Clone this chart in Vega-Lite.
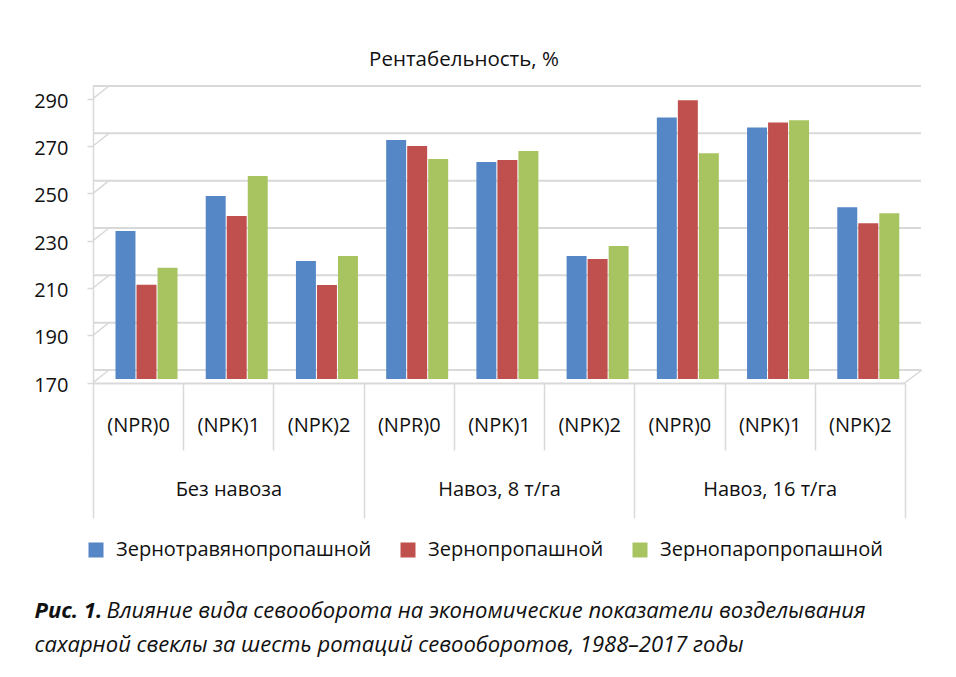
{
  "$schema": "https://vega.github.io/schema/vega-lite/v6.json",
  "width": 812,
  "height": 297,
  "autosize": {"type": "none"},
  "padding": {"left": 93, "top": 86, "right": 51, "bottom": 294},
  "background": "white",
  "title": {
    "text": "Рентабельность, %",
    "font": "Open Sans",
    "fontSize": 20.5,
    "fontWeight": "normal",
    "color": "#111111",
    "baseline": "alphabetic",
    "anchor": "middle",
    "frame": "group",
    "offset": -2,
    "dx": -35
  },
  "datasets": {
    "bars": [
      {"key": "Без навоза|(NPR)0", "series": "Зернотравянопропашной", "value": 232.5},
      {"key": "Без навоза|(NPR)0", "series": "Зернопропашной", "value": 209.8},
      {"key": "Без навоза|(NPR)0", "series": "Зернопаропропашной", "value": 217},
      {"key": "Без навоза|(NPK)1", "series": "Зернотравянопропашной", "value": 247.3},
      {"key": "Без навоза|(NPK)1", "series": "Зернопропашной", "value": 238.9},
      {"key": "Без навоза|(NPK)1", "series": "Зернопаропропашной", "value": 255.8},
      {"key": "Без навоза|(NPK)2", "series": "Зернотравянопропашной", "value": 219.9},
      {"key": "Без навоза|(NPK)2", "series": "Зернопропашной", "value": 209.7},
      {"key": "Без навоза|(NPK)2", "series": "Зернопаропропашной", "value": 222},
      {"key": "Навоз, 8 т/га|(NPR)0", "series": "Зернотравянопропашной", "value": 271},
      {"key": "Навоз, 8 т/га|(NPR)0", "series": "Зернопропашной", "value": 268.4},
      {"key": "Навоз, 8 т/га|(NPR)0", "series": "Зернопаропропашной", "value": 262.9},
      {"key": "Навоз, 8 т/га|(NPK)1", "series": "Зернотравянопропашной", "value": 261.7},
      {"key": "Навоз, 8 т/га|(NPK)1", "series": "Зернопропашной", "value": 262.5},
      {"key": "Навоз, 8 т/га|(NPK)1", "series": "Зернопаропропашной", "value": 266.3},
      {"key": "Навоз, 8 т/га|(NPK)2", "series": "Зернотравянопропашной", "value": 222},
      {"key": "Навоз, 8 т/га|(NPK)2", "series": "Зернопропашной", "value": 220.7},
      {"key": "Навоз, 8 т/га|(NPK)2", "series": "Зернопаропропашной", "value": 226.2},
      {"key": "Навоз, 16 т/га|(NPR)0", "series": "Зернотравянопропашной", "value": 280.5},
      {"key": "Навоз, 16 т/га|(NPR)0", "series": "Зернопропашной", "value": 287.8},
      {"key": "Навоз, 16 т/га|(NPR)0", "series": "Зернопаропропашной", "value": 265.4},
      {"key": "Навоз, 16 т/га|(NPK)1", "series": "Зернотравянопропашной", "value": 276.3},
      {"key": "Навоз, 16 т/га|(NPK)1", "series": "Зернопропашной", "value": 278.4},
      {"key": "Навоз, 16 т/га|(NPK)1", "series": "Зернопаропропашной", "value": 279.3},
      {"key": "Навоз, 16 т/га|(NPK)2", "series": "Зернотравянопропашной", "value": 242.6},
      {"key": "Навоз, 16 т/га|(NPK)2", "series": "Зернопропашной", "value": 235.8},
      {"key": "Навоз, 16 т/га|(NPK)2", "series": "Зернопаропропашной", "value": 240}
    ],
    "grid": [{"v": 170}, {"v": 190}, {"v": 210}, {"v": 230}, {"v": 250}, {"v": 270}, {"v": 290}],
    "groups": [{"group": "Без навоза"}, {"group": "Навоз, 8 т/га"}, {"group": "Навоз, 16 т/га"}],
    "floor": [{"edge": "right"}]
  },
  "layer": [
    {
      "layer": [
        {
          "data": {"name": "grid"},
          "mark": {"type": "rule", "color": "#d9d9d9", "strokeWidth": 2, "xOffset": 16, "x2Offset": 17, "yOffset": -9},
          "encoding": {
            "y": {"field": "v", "type": "quantitative"}
          }
        },
        {
          "data": {"name": "grid"},
          "mark": {"type": "rule", "color": "#d9d9d9", "strokeWidth": 1.5, "yOffset": 3.7, "y2Offset": -9, "xOffset": -45.11, "x2Offset": -29.11},
          "encoding": {
            "x": {"datum": "Без навоза|(NPR)0", "type": "nominal"},
            "x2": {"datum": "Без навоза|(NPR)0"},
            "y": {"field": "v", "type": "quantitative"},
            "y2": {"field": "v"}
          }
        },
        {
          "data": {"name": "floor"},
          "mark": {"type": "rule", "color": "#d9d9d9", "strokeWidth": 1.5, "yOffset": 3.7, "y2Offset": -9, "xOffset": 45.11, "x2Offset": 62.11},
          "encoding": {
            "x": {"datum": "Навоз, 16 т/га|(NPK)2", "type": "nominal"},
            "x2": {"datum": "Навоз, 16 т/га|(NPK)2"},
            "y": {"datum": 170, "type": "quantitative"},
            "y2": {"datum": 170}
          }
        },
        {
          "data": {"name": "bars"},
          "mark": {"type": "bar"},
          "encoding": {
            "x": {
              "field": "key",
              "type": "nominal",
              "sort": null,
              "scale": {
                "type": "band",
                "paddingInner": 0,
                "paddingOuter": 0,
                "domain": [
                  "Без навоза|(NPR)0", "Без навоза|(NPK)1", "Без навоза|(NPK)2",
                  "Навоз, 8 т/га|(NPR)0", "Навоз, 8 т/га|(NPK)1", "Навоз, 8 т/га|(NPK)2",
                  "Навоз, 16 т/га|(NPR)0", "Навоз, 16 т/га|(NPK)1", "Навоз, 16 т/га|(NPK)2"
                ]
              },
              "axis": {
                "title": "Рис. 1.",
                "titleX": -59,
                "titleY": 234,
                "titleAlign": "left",
                "titleBaseline": "alphabetic",
                "titleFont": "Open Sans",
                "titleFontSize": 22,
                "titleFontWeight": "bold",
                "titleFontStyle": "italic",
                "titleColor": "#111111",
                "labelExpr": "split(datum.label, '|')[1]",
                "labelAngle": 0,
                "labelAlign": "center",
                "labelFont": "Open Sans",
                "labelFontSize": 20,
                "labelColor": "#111111",
                "labelBaseline": "middle",
                "labelPadding": -25,
                "tickBand": "extent",
                "tickSize": 67,
                "tickColor": "#d9d9d9",
                "tickWidth": 1.5,
                "domainColor": "#d9d9d9",
                "domainWidth": 2
              }
            },
            "xOffset": {
              "field": "series",
              "type": "nominal",
              "sort": ["Зернотравянопропашной", "Зернопропашной", "Зернопаропропашной"],
              "scale": {"range": [22.5, 84.5], "paddingInner": 0.05, "paddingOuter": 0}
            },
            "y": {
              "field": "value",
              "type": "quantitative",
              "scale": {"domain": [168.31, 293.79], "nice": false, "zero": false},
              "axis": {
                "values": [170, 190, 210, 230, 250, 270, 290],
                "grid": false,
                "labelOverlap": false,
                "domainColor": "#d9d9d9",
                "domainWidth": 1.5,
                "tickColor": "#d9d9d9",
                "tickWidth": 1.5,
                "tickSize": 6,
                "tickOffset": 3.7,
                "labelOffset": 2.5,
                "labelPadding": 19,
                "labelFont": "Open Sans",
                "labelFontSize": 20,
                "labelColor": "#111111",
                "title": "сахарной свеклы за шесть ротаций севооборотов, 1988–2017 годы",
                "titleAngle": 0,
                "titleX": -59,
                "titleY": 565,
                "titleAlign": "left",
                "titleBaseline": "alphabetic",
                "titleFont": "Open Sans",
                "titleFontSize": 22,
                "titleFontWeight": "normal",
                "titleFontStyle": "italic",
                "titleColor": "#111111"
              }
            },
            "y2": {"datum": 170},
            "color": {
              "field": "series",
              "type": "nominal",
              "sort": ["Зернотравянопропашной", "Зернопропашной", "Зернопаропропашной"],
              "scale": {
                "domain": ["Зернотравянопропашной", "Зернопропашной", "Зернопаропропашной"],
                "range": ["#5586C6", "#C0504D", "#A8C460"]
              },
              "legend": {
                "orient": "none",
                "legendX": -7,
                "legendY": 454,
                "direction": "horizontal",
                "title": null,
                "symbolType": "square",
                "symbolSize": 225,
                "symbolStrokeWidth": 0,
                "labelFont": "Open Sans",
                "labelFontSize": 20,
                "labelColor": "#111111",
                "labelOffset": 10,
                "labelLimit": 400,
                "columnPadding": 26,
                "padding": 0
              }
            }
          }
        }
      ]
    },
    {
      "data": {"name": "groups"},
      "mark": {"type": "text", "text": ""},
      "encoding": {
        "x": {
          "field": "group",
          "type": "nominal",
          "sort": null,
          "scale": {"type": "band", "paddingInner": 0, "paddingOuter": 0},
          "axis": {
            "orient": "bottom",
            "offset": 67,
            "domain": false,
            "tickBand": "extent",
            "tickSize": 68,
            "tickColor": "#d9d9d9",
            "tickWidth": 1.5,
            "labelAngle": 0,
            "labelAlign": "center",
            "labelFont": "Open Sans",
            "labelFontSize": 20,
            "labelColor": "#111111",
            "labelBaseline": "middle",
            "labelPadding": -28.5,
            "title": "Влияние вида севооборота на экономические показатели возделывания",
            "titleX": 13,
            "titleY": 167,
            "titleAlign": "left",
            "titleBaseline": "alphabetic",
            "titleFont": "Open Sans",
            "titleFontSize": 22,
            "titleFontWeight": "normal",
            "titleFontStyle": "italic",
            "titleColor": "#111111"
          }
        }
      }
    }
  ],
  "resolve": {"scale": {"x": "independent"}, "axis": {"x": "independent"}},
  "config": {
    "font": "Open Sans",
    "view": {"stroke": null}
  }
}
